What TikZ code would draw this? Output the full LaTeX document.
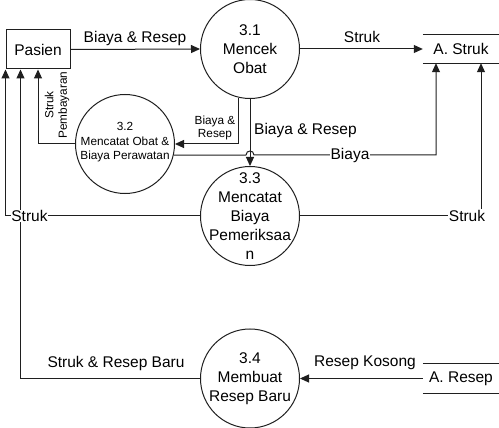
\documentclass[tikz,border=0pt]{standalone}
\usepackage{fontspec}
\setmainfont{Liberation Sans}
\usetikzlibrary{arrows.meta,calc}
\begin{document}
\begin{tikzpicture}[x=1pt,y=-1pt,
  line/.style={draw=black!88,line width=1pt},
  flow/.style={line,-{Triangle[length=9pt,width=8pt]}},
  proc/.style={circle,draw=black!88,line width=1pt,minimum size=99pt,inner sep=0pt},
  ptxt/.style={align=center,font=\fontsize{15.5}{19}\selectfont,inner sep=0pt},
  stxt/.style={align=center,font=\fontsize{11.8}{14.5}\selectfont,inner sep=0pt},
  lbl/.style={font=\fontsize{15.5}{18}\selectfont,inner sep=1pt},
  slbl/.style={align=center,font=\fontsize{11.8}{13.5}\selectfont,inner sep=0pt},
  store/.style={minimum width=76pt,minimum height=28pt,inner sep=0pt,font=\fontsize{15.5}{18}\selectfont}]
\useasboundingbox[fill=white] (0,0) rectangle (499,428);

% entities and stores
\node[draw=black!88,line width=1pt,minimum width=64pt,minimum height=39pt,inner sep=0pt,font=\fontsize{15.5}{18}\selectfont] (pasien) at (38,49.5) {Pasien};
\node[store] (astruk) at (461,49) {A. Struk};
\draw[line] (astruk.north west) -- (astruk.north east) (astruk.south west) -- (astruk.south east);
\node[store,minimum height=29pt] (aresep) at (461,378.5) {A. Resep};
\draw[line] (aresep.north west) -- (aresep.north east) (aresep.south west) -- (aresep.south east);

% processes
\node[proc] (p31) at (250,49) {};
\node[ptxt] (t31) at (p31) {3.1\\Mencek\\Obat};
\node[proc] (p32) at (125,144) {};
\node[stxt] (t32) at (125,142.5) {3.2\\Mencatat Obat \&\\Biaya Perawatan};
\node[proc] (p33) at (250,216) {};
\node[ptxt] (t33) at (p33) {3.3\\Mencatat\\Biaya\\Pemeriksaa\\n};
\node[proc] (p34) at (250,378.5) {};
\node[ptxt] (t34) at (p34) {3.4\\Membuat\\Resep Baru};

% flows
\draw[flow] (pasien.east) -- (p31.west);
\draw[flow] (p31.east) -- (astruk.west);
\draw[flow] (p31.-103) |- (p32.east);
\draw[flow] (p31.south) -- (p33.north);
\draw[flow] (p32.-13) -- (246,155) .. controls (246,149.7) and (254,149.7) .. (254,155) -| ([xshift=-25pt]astruk.south);
\draw[flow] (p32.west) -| (pasien.south);
\draw[flow] (p33.west) -| (pasien.south west);
\draw[flow] (p33.east) -| ([xshift=20pt]astruk.south);
\draw[flow] (p34.west) -| ([xshift=15pt]pasien.south west);
\draw[flow] (aresep.west) -- (p34.east);

% labels
\node[lbl] (l1) at (135,38) {Biaya \& Resep};
\node[lbl] (l2) at (362,37) {Struk};
\node[lbl,anchor=west] (l3) at (253,130) {Biaya \& Resep};
\node[lbl,fill=white] (l4) at (350,155) {Biaya};
\node[slbl] (l5) at (215,128) {Biaya \&\\Resep};
\node[slbl,rotate=90] (l6) at (57,105) {Struk\\Pembayaran};
\node[lbl,fill=white,inner sep=0.5pt] (l7) at (29.5,216) {Struk};
\node[lbl,fill=white] (l8) at (467,216) {Struk};
\node[lbl] (l9) at (116,363) {Struk \& Resep Baru};
\node[lbl] (l10) at (365,363) {Resep Kosong};
\end{tikzpicture}
\end{document}
